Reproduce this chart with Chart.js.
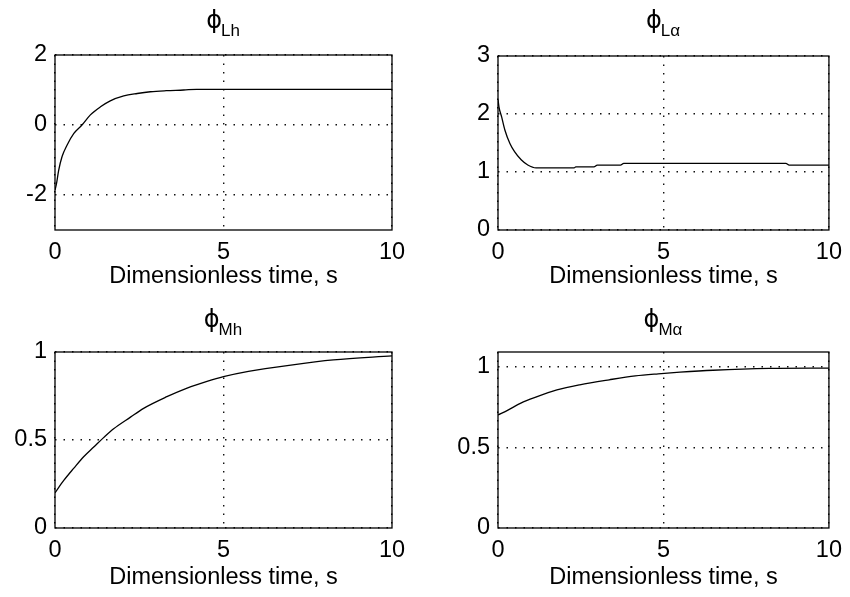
<!DOCTYPE html>
<html>
<head>
<meta charset="utf-8">
<script src="https://cdn.jsdelivr.net/npm/chart.js@4"></script>
<style>
  body { margin: 0; background: #fff; }
  canvas { position: absolute; }
</style>
</head>
<body>
<canvas id="cLh" width="425" height="298" style="left:0;top:0"></canvas>
<canvas id="cLa" width="425" height="298" style="left:425px;top:0"></canvas>
<canvas id="cMh" width="425" height="299" style="left:0;top:298px"></canvas>
<canvas id="cMa" width="425" height="299" style="left:425px;top:298px"></canvas>
<script>
// readings
const xTicks = [0, 5, 10];
const xLabel = 'Dimensionless time, s';

const tLh = [0, 0.04, 0.11, 0.21, 0.36, 0.56, 0.8, 1.05, 1.35, 1.64, 2.04, 2.44, 2.83, 3.3, 3.82, 4.2, 6, 8, 10];
const phiLh = [-1.86, -1.7, -1.29, -0.9, -0.57, -0.24, 0.0, 0.29, 0.52, 0.69, 0.83, 0.9, 0.95, 0.98, 1.0, 1.02, 1.02, 1.02, 1.02];
const yTicksLh = [-2, 0, 2];

const tLa = [0, 0.03, 0.11, 0.21, 0.36, 0.5, 0.7, 0.9, 1.15, 2.3, 2.35, 2.9, 3.0, 3.7, 3.8, 8.7, 8.8, 10];
const phiLa = [2.25, 2.12, 1.95, 1.72, 1.49, 1.35, 1.21, 1.12, 1.07, 1.07, 1.09, 1.09, 1.12, 1.12, 1.15, 1.15, 1.12, 1.12];
const yTicksLa = [0, 1, 2, 3];

const tMh = [0, 0.26, 0.56, 0.85, 1.15, 1.45, 1.74, 2.24, 2.63, 3.32, 3.92, 4.51, 5.0, 5.74, 7, 8.26, 10];
const phiMh = [0.2, 0.27, 0.34, 0.405, 0.46, 0.515, 0.564, 0.63, 0.68, 0.746, 0.795, 0.833, 0.86, 0.89, 0.926, 0.955, 0.978];
const yTicksMh = [0, 0.5, 1];

const tMa = [0, 0.3, 0.69, 1.14, 1.78, 2.47, 3.36, 4.15, 4.84, 5.5, 6.5, 8.2, 10];
const phiMa = [0.7, 0.73, 0.773, 0.81, 0.855, 0.887, 0.918, 0.942, 0.955, 0.965, 0.977, 0.988, 0.99];
const yTicksMa = [0, 0.5, 1];

const font = { family: '"Liberation Sans", Arial, sans-serif', size: 23.5 };

// frame + phi title with subscript
const framePlugin = {
  id: 'frame',
  afterDraw(chart) {
    const { ctx, chartArea: a } = chart;
    const o = chart.options.plugins.frame;
    ctx.save();
    ctx.strokeStyle = '#000';
    ctx.lineWidth = 1.3;
    ctx.strokeRect(a.left, a.top, a.right - a.left, a.bottom - a.top);
    ctx.fillStyle = '#000';
    ctx.textBaseline = 'alphabetic';
    ctx.font = '24px "DejaVu Sans", sans-serif';
    const wPhi = ctx.measureText('\u03d5').width;
    ctx.font = '17px "Liberation Sans", Arial, sans-serif';
    const wSub = ctx.measureText(o.sub).width;
    const x0 = (a.left + a.right) / 2 - (wPhi + wSub) / 2;
    ctx.font = '24px "DejaVu Sans", sans-serif';
    ctx.fillText('\u03d5', x0, o.base);
    ctx.font = '17px "Liberation Sans", Arial, sans-serif';
    ctx.fillText(o.sub, x0 + wPhi - 1, o.base + 8);
    ctx.restore();
  }
};

function makeChart(id, sub, xs, ys, yMin, yMax, yTicks, box) {
  const canvas = document.getElementById(id);
  const W = canvas.width, H = canvas.height;
  const points = xs.map((x, i) => ({ x, y: ys[i] }));
  const dotted = {
    color: '#111',
    lineWidth: 1.4,
    drawTicks: false,
    tickLength: 0
  };
  new Chart(canvas, {
    type: 'line',
    data: {
      datasets: [{
        data: points,
        borderColor: '#000',
        borderWidth: 1.3,
        pointRadius: 0,
        cubicInterpolationMode: 'monotone',
        fill: false
      }]
    },
    options: {
      responsive: false,
      animation: false,
      events: [],
      layout: { padding: { left: 0, top: box.top, right: W - box.right, bottom: 0 } },
      plugins: {
        legend: { display: false },
        tooltip: { enabled: false },
        frame: { sub, base: box.titleBase }
      },
      scales: {
        x: {
          type: 'linear',
          min: 0, max: 10,
          afterBuildTicks: s => { s.ticks = xTicks.map(v => ({ value: v })); },
          afterFit: s => { s.height = H - box.bottom; },
          grid: dotted,
          border: { display: false, dash: [1.5, 7] },
          ticks: { font, color: '#000', padding: 8, maxRotation: 0, callback: v => String(v) },
          title: { display: true, text: xLabel, font, color: '#000', padding: { top: 0, bottom: box.titlePad } }
        },
        y: {
          type: 'linear',
          min: yMin, max: yMax,
          afterBuildTicks: s => { s.ticks = yTicks.map(v => ({ value: v })); },
          afterFit: s => { s.width = box.left; },
          grid: dotted,
          border: { display: false, dash: [1.5, 7] },
          ticks: { font, color: '#000', padding: 8, callback: v => String(v) }
        }
      }
    },
    plugins: [framePlugin]
  });
}

makeChart('cLh', 'Lh', tLh, phiLh, -3, 2, yTicksLh,
  { left: 55, top: 55, right: 392, bottom: 230, titleBase: 28, titlePad: 7 });
makeChart('cLa', 'L\u03b1', tLa, phiLa, 0, 3, yTicksLa,
  { left: 73, top: 56, right: 410, bottom: 230, titleBase: 28, titlePad: 7 });
makeChart('cMh', 'Mh', tMh, phiMh, 0, 1, yTicksMh,
  { left: 55, top: 54, right: 392, bottom: 230, titleBase: 29, titlePad: 5 });
makeChart('cMa', 'M\u03b1', tMa, phiMa, 0, 1.09, yTicksMa,
  { left: 73, top: 54, right: 410, bottom: 230, titleBase: 29, titlePad: 5 });
</script>
</body>
</html>
